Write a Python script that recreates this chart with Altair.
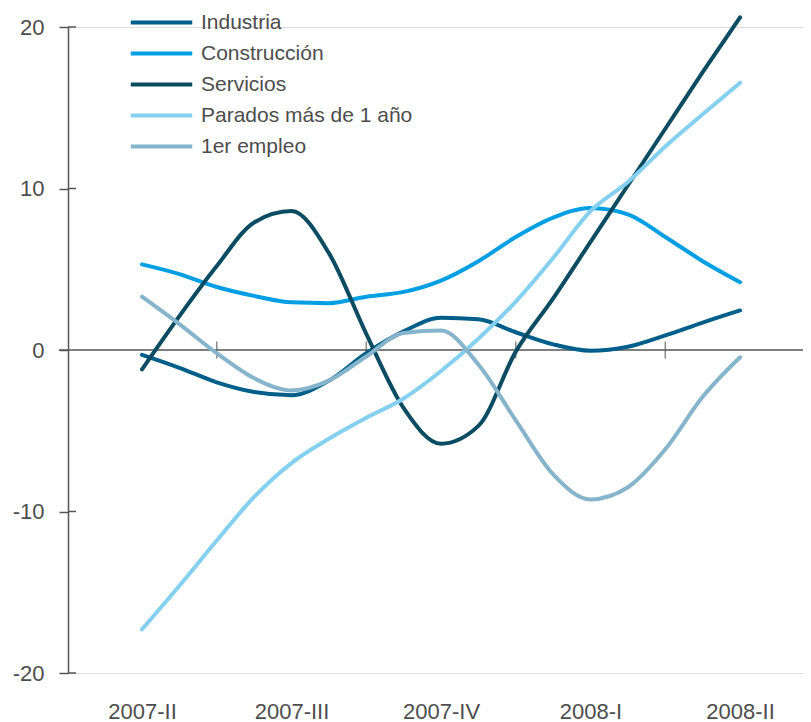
import altair as alt
import pandas as pd

# ---- data ----
QUARTERS = ["2007-II", "2007-III", "2007-IV", "2008-I", "2008-II"]
POS = [0, 0.25, 0.5, 0.75, 1, 1.25, 1.5, 1.75, 2, 2.25, 2.5, 2.75, 3, 3.25, 3.5, 3.75, 4]
SERIES = ["Industria", "Construcción", "Servicios", "Parados más de 1 año", "1er empleo"]
COLORS = ["#005f8a", "#009fe3", "#0b4c63", "#85cff0", "#86b4cc"]

industria = [-0.3, -1.1, -2.0, -2.6, -2.8, -1.9, -0.2, 1.15, 2.0, 1.9, 1.1, 0.35, -0.05, 0.2, 0.9, 1.7, 2.45]
construccion = [5.3, 4.7, 3.9, 3.35, 2.95, 2.9, 3.3, 3.6, 4.3, 5.5, 7.0, 8.2, 8.8, 8.4, 7.0, 5.5, 4.2]
servicios = [-1.2, 2.1, 5.2, 7.9, 8.6, 6.0, 1.0, -3.6, -5.8, -4.7, -0.1, 3.2, 6.7, 10.2, 13.7, 17.2, 20.6]
parados = [-17.3, -14.6, -11.8, -9.1, -7.0, -5.5, -4.2, -3.0, -1.3, 0.7, 3.0, 5.7, 8.6, 10.4, 12.6, 14.6, 16.55]
primer_empleo = [3.3, 1.6, -0.2, -1.75, -2.5, -1.9, -0.4, 1.05, 1.2, -0.9, -4.35, -7.7, -9.25, -8.5, -6.15, -2.9, -0.45]

Y_TICKS = [-20, -10, 0, 10, 20]
MID_TICKS = [0.5, 1.5, 2.5, 3.5]

VALUES = dict(zip(SERIES, [industria, construccion, servicios, parados, primer_empleo]))
df = pd.DataFrame(
    [{"pos": p, "serie": s, "valor": v} for s in SERIES for p, v in zip(POS, VALUES[s])]
)

W, H = 735, 646
AX = "#555555"
TXT = "#4d4d4d"
FONT = "Liberation Sans"

xscale = alt.Scale(domain=[-0.495, 4.421], nice=False, zero=False)
yscale = alt.Scale(domain=[-20, 20], nice=False, zero=False)
label_expr = "[" + ",".join(f"'{q}'" for q in QUARTERS) + "][datum.value]"

X_AXIS = alt.Axis(
    values=[0, 1, 2, 3, 4],
    labelExpr=label_expr,
    title=None,
    domain=False,
    ticks=False,
    grid=False,
    labelFontSize=22,
    labelColor=TXT,
    labelFont=FONT,
    labelPadding=28,
    labelOverlap=False,
    labelFlush=False,
)
Y_AXIS = alt.Axis(
    values=Y_TICKS,
    labelExpr="'' + datum.value",
    title=None,
    grid=False,
    domainColor=AX,
    domainWidth=1.5,
    tickColor=AX,
    tickWidth=1.5,
    tickSize=9,
    labelFontSize=22,
    labelColor=TXT,
    labelFont=FONT,
    labelPadding=15,
)

zero_line = alt.Chart(pd.DataFrame({"valor": [0]})).mark_rule(color=AX, strokeWidth=1.5).encode(
    y=alt.Y("valor:Q", scale=yscale, axis=Y_AXIS),
    x=alt.value(-9),
    x2=alt.value(W),
)

right_ticks = alt.Chart(pd.DataFrame({"valor": [t for t in Y_TICKS if t != 0]})).mark_rule(
    color=AX, strokeWidth=1.5
).encode(
    y=alt.Y("valor:Q", scale=yscale, axis=Y_AXIS),
    x=alt.value(0),
    x2=alt.value(8),
)

mid_ticks = alt.Chart(pd.DataFrame({"pos": MID_TICKS, "valor": [0] * len(MID_TICKS)})).mark_tick(
    orient="vertical", size=17, thickness=1.5, color=AX
).encode(
    x=alt.X("pos:Q", scale=xscale, axis=X_AXIS),
    y=alt.Y("valor:Q", scale=yscale, axis=Y_AXIS),
)

lines = alt.Chart(df).mark_line(
    interpolate="monotone", strokeWidth=4, strokeCap="round", strokeJoin="round"
).encode(
    x=alt.X("pos:Q", scale=xscale, axis=X_AXIS),
    y=alt.Y("valor:Q", scale=yscale, axis=Y_AXIS),
    color=alt.Color(
        "serie:N",
        sort=SERIES,
        scale=alt.Scale(domain=SERIES, range=COLORS),
        legend=alt.Legend(
            title=None,
            orient="none",
            direction="vertical",
            legendX=81,
            legendY=-17,
            padding=0,
            symbolType="M-3,0L3,0",
            symbolSize=420,
            symbolStrokeWidth=4,
            labelFontSize=21,
            labelColor=TXT,
            labelFont=FONT,
            labelOffset=27,
            labelLimit=500,
            rowPadding=8,
        ),
    ),
)

chart = (
    alt.layer(zero_line, right_ticks, mid_ticks, lines)
    .properties(
        width=W,
        height=H,
        padding={"left": 60, "top": 19, "right": 0, "bottom": 49},
        autosize=alt.AutoSizeParams(type="none"),
    )
    .configure_view(strokeWidth=0, stroke="transparent")
    .configure(font=FONT)
)

chart.save("out.html", embed_options={"renderer": "svg", "actions": False})
